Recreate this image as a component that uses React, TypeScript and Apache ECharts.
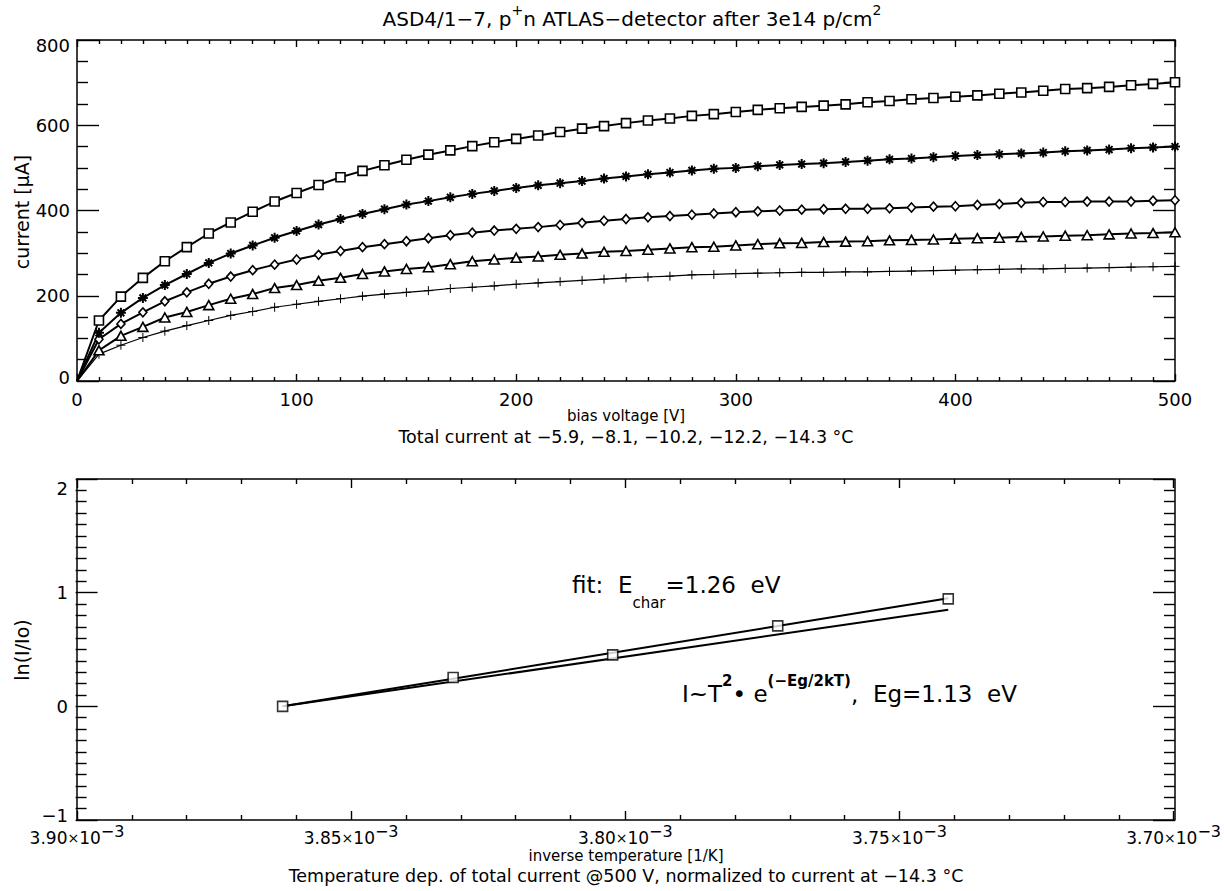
import React, { useEffect, useRef } from "react";
import * as echarts from "echarts";

const FONT = '"DejaVu Sans", "Liberation Sans", sans-serif';

// ---------- top panel: I(V) at five temperatures ----------
const voltage = [0, 10, 20, 30, 40, 50, 60, 70, 80, 90, 100, 110, 120, 130, 140, 150, 160, 170, 180, 190, 200,
  210, 220, 230, 240, 250, 260, 270, 280, 290, 300, 310, 320, 330, 340, 350, 360, 370, 380, 390, 400,
  410, 420, 430, 440, 450, 460, 470, 480, 490, 500];

// -5.9 °C (squares)
const currentM5_9 = [0, 142, 198, 242, 281, 314, 346, 372, 397, 421, 441, 460, 478, 493, 506, 519, 531, 541, 551, 560, 568,
  576, 584, 592, 598, 605, 611, 616, 622, 626, 631, 636, 640, 643, 646, 649, 654, 657, 661, 664, 667,
  670, 674, 677, 681, 685, 687, 690, 694, 697, 701];
// -8.1 °C (asterisks)
const currentM8_1 = [0, 113, 160, 195, 225, 251, 277, 299, 318, 336, 352, 367, 380, 392, 403, 414, 422, 431, 439, 446, 453,
  459, 464, 469, 475, 480, 485, 489, 494, 498, 500, 504, 507, 509, 511, 514, 517, 520, 522, 525, 528,
  530, 532, 534, 536, 539, 541, 543, 546, 548, 550];
// -10.2 °C (diamonds)
const currentM10_2 = [0, 98, 134, 161, 187, 208, 228, 245, 260, 273, 285, 296, 305, 314, 321, 328, 335, 342, 348, 353, 357,
  361, 366, 371, 376, 380, 384, 387, 390, 393, 396, 398, 400, 402, 403, 404, 404, 405, 407, 409, 410,
  413, 415, 418, 420, 420, 421, 421, 421, 423, 424];
// -12.2 °C (triangles)
const currentM12_2 = [0, 72, 106, 127, 149, 162, 178, 193, 204, 218, 225, 235, 242, 251, 257, 263, 267, 274, 281, 285, 289,
  292, 296, 299, 303, 305, 308, 311, 314, 315, 318, 321, 323, 324, 326, 327, 328, 330, 331, 332, 334,
  335, 336, 338, 339, 341, 342, 344, 346, 347, 349];
// -14.3 °C (plus)
const currentM14_3 = [0, 63, 84, 102, 117, 130, 142, 154, 163, 173, 180, 187, 193, 199, 204, 208, 212, 217, 220, 223, 227,
  230, 233, 236, 239, 242, 244, 246, 249, 250, 252, 253, 254, 255, 255, 256, 256, 257, 258, 259, 260,
  261, 262, 263, 263, 264, 265, 266, 267, 268, 269];

// ---------- bottom panel: ln(I/Io) vs 1/T (units of 1e-3 / K) ----------
const invTemp = [3.8625, 3.8314, 3.8023, 3.7722, 3.7411];
const lnRatio = [0, 0.254, 0.453, 0.708, 0.945];
const fitLn = [0, 0.243, 0.471, 0.707, 0.95];
const theoryX = [3.8625, 3.7411];
const theoryLn = [0, 0.85];

const BLACK = "#000";
const GRID_W = 1098;
const GRID_H = 341;

function axisCommon(extra: any) {
  return {
    type: "value",
    show: true,
    axisLine: { show: true, onZero: false, lineStyle: { color: BLACK, width: 1.5 } },
    splitLine: { show: false },
    minorSplitLine: { show: false },
    ...extra,
  };
}

function tick(len: number) {
  return { show: true, inside: false, length: len, lineStyle: { color: BLACK, width: 1.4 } };
}
function minor(n: number, len: number) {
  return { show: true, splitNumber: n, length: len, lineStyle: { color: BLACK, width: 1.4 } };
}
const NO_TICK = { show: false };
const NO_LINE = { show: false, onZero: false };

const labelBase = { color: BLACK, fontFamily: FONT, fontSize: 18 };

// Each frame side is an ECharts axis; ticks point into the plot by placing an
// opposite-side axis (outward ticks) onto this side with a negative offset.
function xAxes(gridIndex: number, base: any, label: any) {
  return [
    axisCommon({ gridIndex, position: "bottom", ...base, axisTick: NO_TICK, minorTick: NO_TICK, axisLabel: label }),
    axisCommon({ gridIndex, position: "top", offset: -GRID_H, ...base, axisLine: NO_LINE, axisLabel: { show: false } }),
    axisCommon({ gridIndex, position: "bottom", offset: -GRID_H, ...base, axisLabel: { show: false } }),
  ];
}
function yAxes(gridIndex: number, base: any, label: any) {
  return [
    axisCommon({ gridIndex, position: "left", ...base, axisTick: NO_TICK, minorTick: NO_TICK, axisLabel: label }),
    axisCommon({ gridIndex, position: "right", offset: -GRID_W, ...base, axisLine: NO_LINE, axisLabel: { show: false } }),
    axisCommon({ gridIndex, position: "left", offset: -GRID_W, ...base, axisLabel: { show: false } }),
  ];
}

const xTop = { min: 0, max: 500, interval: 100, axisTick: tick(7), minorTick: minor(10, 4) };
const yTop = { min: 0, max: 800, interval: 200, axisTick: tick(22), minorTick: minor(4, 11) };
const xBot = { min: 3.7, max: 3.9, interval: 0.05, inverse: true, axisTick: tick(9), minorTick: minor(5, 5) };
const yBot = { min: -1, max: 2, interval: 1, axisTick: tick(22), minorTick: minor(10, 11) };

function topSeries(vals: number[], symbol: string, size: any, lw: number, bw: number, fill: string) {
  return {
    type: "line",
    xAxisIndex: 0,
    yAxisIndex: 0,
    silent: true,
    data: voltage.map((v, i) => (i === 0 ? { value: [v, vals[i]], symbol: "none" } : [v, vals[i]])),
    symbol,
    symbolSize: size,
    showAllSymbol: true,
    clip: false,
    lineStyle: { color: BLACK, width: lw },
    itemStyle: { color: fill, borderColor: BLACK, borderWidth: bw },
    emphasis: { disabled: true },
  };
}

const STAR = "path://M5,0L5,10M0,5L10,5M1.6,1.6L8.4,8.4M1.6,8.4L8.4,1.6";
const PLUS = "path://M5,0L5,10M0,5L10,5";

function gtext(x: number, y: number, text: string, font: string, extra: any = {}, el: any = {}) {
  return {
    type: "text",
    x,
    y,
    silent: true,
    ...el,
    style: {
      text,
      font,
      fill: BLACK,
      align: "center",
      verticalAlign: "middle",
      textAlign: "center",
      textVerticalAlign: "middle",
      ...extra,
    },
  };
}

const option: any = {
  animation: false,
  backgroundColor: "#fff",
  textStyle: { fontFamily: FONT },
  grid: [
    { left: 77, top: 40, width: GRID_W, height: GRID_H },
    { left: 77, top: 479, width: GRID_W, height: GRID_H },
  ],
  xAxis: [
    ...xAxes(0, xTop, { ...labelBase, margin: 9, showMinLabel: true, showMaxLabel: true }),
    ...xAxes(1, xBot, {
      margin: 3,
      showMinLabel: true,
      showMaxLabel: true,
      formatter: (v: number) => `{a|${v.toFixed(2)}}{x|×}{a|10}{b|−3}`,
      rich: {
        a: { ...labelBase, fontSize: 17, padding: [6, 0, 0, 0], verticalAlign: "top" },
        x: { ...labelBase, fontSize: 14, padding: [8, 0, 0, 0], verticalAlign: "top" },
        b: { ...labelBase, fontSize: 16, verticalAlign: "top" },
      },
    }),
  ],
  yAxis: [
    ...yAxes(0, yTop, {
      ...labelBase,
      margin: 7,
      showMinLabel: true,
      showMaxLabel: true,
      formatter: (v: number) => (v === 800 ? `{t|${v}}` : v === 0 ? `{z|${v}}` : String(v)),
      rich: {
        t: { ...labelBase, padding: [10, 0, 0, 0] },
        z: { ...labelBase, padding: [0, 0, 8, 0] },
      },
    }),
    ...yAxes(1, yBot, {
      ...labelBase,
      margin: 9,
      showMinLabel: true,
      showMaxLabel: true,
      formatter: (v: number) => (v === 2 ? `{t|2}` : v < 0 ? `{m|−${Math.abs(v)}}` : String(v)),
      rich: {
        t: { ...labelBase, padding: [18, 0, 0, 0] },
        m: { ...labelBase, padding: [0, 0, 10, 0] },
      },
    }),
  ],
  series: [
    topSeries(currentM14_3, PLUS, 9, 1.2, 1, "none"),
    topSeries(currentM12_2, "triangle", [10, 9], 2, 1.6, "#fff"),
    topSeries(currentM10_2, "diamond", [8, 9], 2, 1.6, "#fff"),
    topSeries(currentM8_1, STAR, 10, 2, 2, "none"),
    topSeries(currentM5_9, "rect", 9, 2, 1.6, "#fff"),
    {
      type: "line",
      xAxisIndex: 3,
      yAxisIndex: 3,
      silent: true,
      data: invTemp.map((x, i) => [x, fitLn[i]]),
      symbol: "none",
      lineStyle: { color: BLACK, width: 2 },
      emphasis: { disabled: true },
    },
    {
      type: "line",
      xAxisIndex: 3,
      yAxisIndex: 3,
      silent: true,
      data: theoryX.map((x, i) => [x, theoryLn[i]]),
      symbol: "none",
      lineStyle: { color: BLACK, width: 2 },
      emphasis: { disabled: true },
    },
    {
      type: "scatter",
      xAxisIndex: 3,
      yAxisIndex: 3,
      silent: true,
      data: invTemp.map((x, i) => [x, lnRatio[i]]),
      symbol: "rect",
      symbolSize: 10,
      itemStyle: { color: "#fff", borderColor: BLACK, borderWidth: 1.6 },
      emphasis: { disabled: true },
      z: 5,
    },
  ],
  graphic: [
    gtext(632, 16, "{a|ASD4/1−7, p}{s|+}{a|n ATLAS−detector after 3e14 p/cm}{s|2}", `20px ${FONT}`, {
      rich: {
        a: { font: `20px ${FONT}`, padding: [6, 0, 0, 0], verticalAlign: "top" },
        s: { font: `14px ${FONT}`, verticalAlign: "top" },
      },
    }),
    gtext(22, 212, "current [µA]", `19px ${FONT}`, {}, { rotation: Math.PI / 2 }),
    gtext(626, 416, "bias voltage [V]", `15px ${FONT}`),
    gtext(626, 437, "Total current at −5.9, −8.1, −10.2, −12.2, −14.3 °C", `17.5px ${FONT}`),
    gtext(22, 650, "ln(I/Io)", `19px ${FONT}`, {}, { rotation: Math.PI / 2 }),
    gtext(626, 856, "inverse temperature [1/K]", `15px ${FONT}`),
    gtext(626, 876, "Temperature dep. of total current @500 V, normalized to current at −14.3 °C", `17.5px ${FONT}`),
    gtext(572, 573, "{a|fit:  E}{b|char}{a|=1.26  eV}", `23px ${FONT}`, {
      align: "left",
      textAlign: "left",
      verticalAlign: "top",
      textVerticalAlign: "top",
      rich: {
        a: { font: `23px ${FONT}`, verticalAlign: "top" },
        b: { font: `15px ${FONT}`, padding: [22, 0, 0, 0], verticalAlign: "top" },
      },
    }),
    gtext(682, 673, "{a|I~T}{s|2}{a|• e}{s|(−Eg/2kT)}{a|,  Eg=1.13  eV}", `23px ${FONT}`, {
      align: "left",
      textAlign: "left",
      verticalAlign: "top",
      textVerticalAlign: "top",
      rich: {
        a: { font: `23px ${FONT}`, padding: [9, 0, 0, 0], verticalAlign: "top" },
        s: { font: `bold 15px ${FONT}`, verticalAlign: "top" },
      },
    }),
  ],
};

export default function App() {
  const ref = useRef<HTMLDivElement>(null);
  useEffect(() => {
    if (!ref.current) return;
    const chart = echarts.init(ref.current, undefined, { renderer: "svg" });
    chart.setOption(option);
    return () => chart.dispose();
  }, []);
  return (
    <div
      ref={ref}
      style={{ position: "fixed", left: 0, top: 0, width: 1224, height: 891, background: "#fff" }}
    />
  );
}
